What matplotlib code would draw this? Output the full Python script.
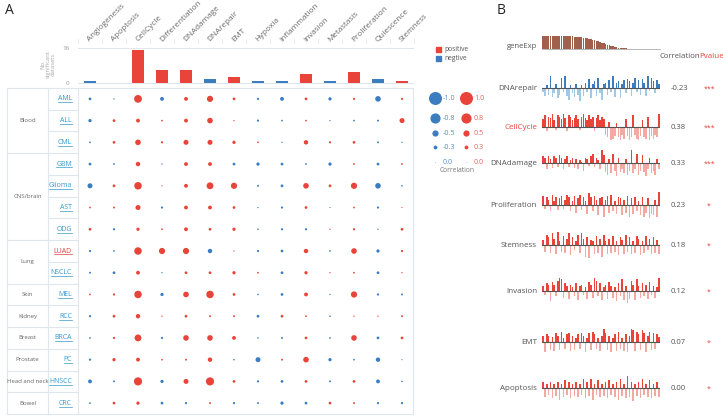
import matplotlib
matplotlib.use('Agg')
import matplotlib.pyplot as plt
import numpy as np

plt.rcParams['font.family'] = ['Open Sans', 'DejaVu Sans']

# ---------------- DATA ----------------
processes = ['Angiogenesis', 'Apoptosis', 'CellCycle', 'Differentiation', 'DNAdamage',
             'DNArepair', 'EMT', 'Hypoxia', 'Inflammation', 'Invasion', 'Metastasis',
             'Proliferation', 'Quiescence', 'Stemness']
sig_counts = [1, 0, 15, 6, 6, 2, 3, 1, 1, 4, 1, 5, 2, 1]
sig_sign = ['neg', 'pos', 'pos', 'pos', 'pos', 'neg', 'pos', 'neg', 'neg', 'pos', 'neg', 'pos', 'neg', 'pos']

cancers = ['AML', 'ALL', 'CML', 'GBM', 'Glioma', 'AST', 'ODG', 'LUAD', 'NSCLC', 'MEL',
           'RCC', 'BRCA', 'PC', 'HNSCC', 'CRC']
groups = ['Blood', 'CNS/brain', 'Lung', 'Skin', 'Kidney', 'Breast', 'Prostate', 'Head and neck', 'Bowel']
group_sizes = [3, 4, 2, 1, 1, 1, 1, 1, 1]

corr_AML = [-0.2, -0.05, 0.62, -0.3, 0.3, 0.5, 0.2, -0.15, -0.3, 0.2, -0.25, 0.15, -0.45, 0.15]
corr_ALL = [-0.25, 0.2, 0.3, 0.1, 0.3, 0.45, 0.05, -0.15, -0.1, 0.1, -0.05, -0.1, -0.12, 0.4]
corr_CML = [-0.1, 0.2, 0.45, 0.15, 0.4, 0.4, 0.25, 0.1, -0.05, 0.35, 0.15, 0.2, -0.12, -0.05]
corr_GBM = [-0.2, -0.1, 0.35, -0.05, 0.3, 0.3, -0.2, -0.25, -0.2, -0.1, -0.25, 0.1, -0.2, 0.1]
corr_Glioma = [-0.4, 0.2, 0.6, 0.03, 0.3, 0.55, 0.5, -0.12, -0.2, 0.45, 0.2, 0.5, -0.45, -0.08]
corr_AST = [0.1, 0.12, 0.4, -0.15, 0.3, 0.3, 0.2, -0.05, -0.15, 0.2, -0.03, 0.1, -0.15, 0.03]
corr_ODG = [0.2, -0.15, 0.25, 0.1, 0.3, 0.2, 0.25, -0.08, -0.15, -0.15, 0.05, 0.15, -0.05, 0.2]
corr_LUAD = [-0.15, -0.1, 0.6, 0.5, 0.5, -0.35, 0.05, -0.15, -0.2, 0.35, -0.1, 0.45, -0.25, 0.15]
corr_NSCLC = [-0.12, -0.2, 0.3, -0.05, 0.2, 0.2, 0.25, 0.1, -0.2, 0.25, 0.05, 0.1, -0.2, 0.05]
corr_MEL = [0.1, 0.15, 0.6, -0.25, 0.45, 0.6, 0.2, -0.08, -0.2, 0.3, -0.05, 0.5, -0.15, -0.12]
corr_RCC = [-0.15, 0.2, 0.35, 0.05, 0.2, 0.12, 0.12, -0.2, 0.2, 0.1, -0.08, 0.05, 0.05, 0.12]
corr_BRCA = [-0.1, 0.15, 0.55, -0.15, 0.45, 0.45, 0.3, -0.08, -0.12, 0.2, -0.1, 0.45, -0.2, 0.2]
corr_PC = [-0.15, 0.25, 0.3, 0.1, 0.12, 0.35, -0.08, -0.4, 0.12, 0.45, -0.25, -0.1, -0.35, -0.03]
corr_HNSCC = [-0.3, -0.12, 0.65, -0.25, 0.4, 0.65, 0.2, -0.15, -0.2, 0.2, -0.12, 0.2, -0.3, -0.08]
corr_CRC = [-0.1, 0.2, 0.25, -0.2, -0.15, 0.12, -0.15, -0.12, -0.25, -0.2, 0.2, 0.12, -0.15, -0.15]

legend_vals = [1.0, 0.8, 0.5, 0.3, 0.0]

gene_exp = [1.00, 1.00, 0.99, 0.99, 0.98, 0.98, 0.98, 0.97, 0.97, 0.97, 0.96, 0.96, 0.96, 0.95, 0.95, 0.94,
            0.94, 0.93, 0.92, 0.91, 0.90, 0.88, 0.86, 0.84, 0.81, 0.78, 0.75, 0.71, 0.67, 0.63, 0.58, 0.53,
            0.48, 0.43, 0.38, 0.33, 0.28, 0.24, 0.20, 0.16, 0.13, 0.10, 0.08, 0.06, 0.05, 0.04, 0.03, 0.03,
            0.02, 0.02, 0.02, 0.02, 0.01, 0.01, 0.01, 0.01, 0.01, 0.01, 0.01, 0.01, 0.01, 0.01, 0.0, 0.0]

b_names = ['DNArepair', 'CellCycle', 'DNAdamage', 'Proliferation', 'Stemness', 'Invasion', 'EMT', 'Apoptosis']
b_corr = ['-0.23', '0.38', '0.33', '0.23', '0.18', '0.12', '0.07', '0.00']
b_pval = ['***', '***', '***', '*', '*', '*', '*', '*']

score_DNArepair = [-0.3, -0.6, 0.2, -0.5, 0.9, -0.7, -0.4, 0.3, -0.8, -0.5, 0.8, -0.3, 0.9, -0.6, -0.9, 0.2,
                   -0.4, -0.7, 0.3, -0.5, -1.0, 0.2, -0.6, 0.4, -0.3, 0.7, -0.8, 0.3, 0.5, -0.6, 0.8, -0.4,
                   -0.9, 0.3, 0.4, -0.5, 0.6, -0.3, 0.9, -0.7, 0.4, 0.5, -0.8, 0.3, 0.6, -0.4, 0.7, 0.5,
                   -0.6, 0.4, 0.8, -0.3, 0.6, -0.5, 0.7, 0.4, -0.6, 0.9, -0.2, 0.8, 0.5, -0.4, 0.6, 0.3]
score_CellCycle = [0.6, 0.9, -0.3, 0.8, 0.7, 1.0, 0.5, -0.2, 0.9, 0.8, 0.6, 1.0, 0.7, -0.3, 0.9, 0.8,
                   0.5, 0.7, 0.9, 0.6, -0.2, 0.8, 1.0, 0.7, 0.5, 0.9, 0.6, 0.8, -0.3, 0.7, 0.9, 0.5,
                   0.8, 0.6, -0.6, -0.8, 0.4, -1.0, -0.9, -0.7, 0.3, -0.8, -1.0, -0.6, -0.9, 0.6, -0.7, -1.0,
                   -0.8, 0.9, -0.6, -0.9, -1.0, -0.7, 0.5, -0.8, -0.9, 0.8, -1.0, -0.7, -0.9, -0.6, -0.8, 1.0]
score_DNAdamage = [0.5, 0.4, -0.5, 0.5, 0.3, -0.4, 0.5, 0.4, -0.3, 0.6, 0.4, -0.5, 0.3, 0.5, -0.3, 0.2,
                   0.4, -0.4, 0.3, -0.5, 0.2, 0.1, -0.6, 0.4, 0.3, -0.2, 0.5, 0.7, -0.3, 0.4, 0.2, -0.5,
                   1.0, 0.6, -0.7, -0.9, 0.3, -0.8, 0.7, -0.6, -1.0, 0.4, -0.7, -0.5, -0.8, 0.3, -0.9, -0.6,
                   1.0, -0.8, -0.5, 0.7, -0.9, -0.6, 0.6, -0.7, -1.0, -0.5, 0.4, -0.8, -0.6, -0.9, 0.3, -0.5]
score_Proliferation = [0.7, -0.3, 0.6, 0.4, -0.5, 0.8, 0.3, 0.6, -0.4, 0.5, 0.7, -0.3, 0.4, 0.8, 0.6, -0.5,
                       0.3, 0.7, -0.6, 0.5, 0.8, -0.4, 0.6, 0.3, -0.7, 0.9, 0.6, -0.5, 0.7, 0.4, -0.8, 0.5,
                       0.6, -0.9, 0.4, 0.7, -0.6, 0.8, -0.5, 0.3, -0.7, 0.6, 0.5, -0.8, 0.4, -0.6, 0.7, -0.9,
                       0.5, -0.7, 0.6, -0.5, 0.3, -0.8, 0.6, -0.9, -0.6, 0.5, -1.0, -0.7, -0.8, 0.4, -0.9, 1.0]
score_Stemness = [0.4, -0.5, 0.8, 0.6, -0.6, 0.9, 0.5, -0.7, 1.0, 0.3, -0.5, 0.7, -0.6, 0.5, 0.9, -0.8,
                  0.6, -0.4, 0.3, 0.8, -0.6, 0.9, 0.5, -0.9, 0.6, -1.0, 0.4, 0.3, -0.7, 0.7, -0.6, 0.5,
                  -0.9, 0.8, 0.3, -0.7, 0.5, -0.6, 0.7, -0.5, 0.3, -0.8, 0.6, 0.4, -0.7, 0.8, -0.5, 0.6,
                  -0.7, 0.3, -0.6, 0.7, 0.5, -0.8, 0.3, -0.6, 0.7, -0.4, 0.5, -0.7, 0.6, -0.6, 0.4, -0.7]
score_Invasion = [0.4, -0.3, 0.6, 0.5, -0.8, 0.7, 0.5, -0.4, 0.8, 1.0, 0.9, -0.5, 0.6, 0.4, -0.6, 0.5,
                  0.3, -0.4, 0.6, -0.7, 0.4, 0.5, -0.3, 0.3, -0.6, 0.7, 0.5, -0.5, 1.0, 0.8, -0.4, 0.6,
                  -0.7, 0.3, 0.5, -0.6, 0.7, 0.4, -0.5, 0.3, -0.8, 0.6, -0.4, 0.9, -0.7, 0.4, -0.9, -0.6,
                  0.8, 0.5, -0.7, 0.9, 0.4, -0.5, 0.6, -0.4, 0.5, -0.6, 0.7, -0.3, 0.4, -0.5, 0.3, 1.0]
score_EMT = [0.5, -0.8, 0.6, 0.5, -0.6, 0.4, -0.7, 0.7, 0.5, -0.6, 0.8, 0.3, -0.5, 0.6, 0.7, -0.7,
             0.5, -0.6, 0.3, 0.6, -0.5, 0.7, 0.5, -0.8, 0.3, 0.7, -0.6, 0.8, 0.6, -0.5, 0.3, -0.7,
             0.5, 1.0, 0.7, -0.6, 0.5, -0.8, 0.3, 0.6, -0.7, 0.8, -0.5, 0.3, -0.7, 0.6, -0.8, 0.5,
             1.0, 0.9, -0.7, 0.8, 0.6, -0.6, 0.9, 0.7, -0.8, 0.5, 0.8, -0.6, 0.7, -0.5, 0.6, 0.4]
score_Apoptosis = [0.5, -0.7, 0.3, -0.5, 0.5, -0.8, 0.3, -0.6, 0.5, -0.9, 0.3, -0.7, 0.6, -0.5, 0.5, -0.8,
                   0.3, -0.6, 0.5, -0.7, 0.3, -0.5, 0.7, -0.8, 0.5, -0.6, 0.7, -0.9, 0.3, -0.5, 0.6, -0.7,
                   0.3, -0.6, 0.5, -0.8, 0.6, -0.5, 0.3, -0.7, 0.5, -0.9, 0.7, -0.6, 0.3, -0.8, 0.9, -0.7,
                   0.5, -1.0, 0.3, -0.6, 0.5, -0.8, 0.7, -0.5, 0.3, -0.7, 0.6, -0.8, 0.3, -0.6, 0.5, -0.7]

# ---------------- STYLE ----------------
RED = '#e8443a'
BLUE = '#3b7dbf'
LRED = '#f3a8a1'
LBLUE = '#a0c9e6'
LINK = '#3499cc'
GRID = '#dfe7ee'
TXT = '#666666'

W, H = 723, 419
fig = plt.figure(figsize=(W / 100, H / 100), dpi=100)


def ax_px(x0, y0, x1, y1):
    a = fig.add_axes([x0 / W, 1 - y1 / H, (x1 - x0) / W, (y1 - y0) / H])
    a.patch.set_alpha(0)
    return a


ov = ax_px(0, 0, W, H)
ov.set_xlim(0, W)
ov.set_ylim(H, 0)
ov.axis('off')


def size_of(r):
    d = 1.0 + 12.0 * abs(r) ** 1.2  # diameter in px
    return (d * 0.72) ** 2


# ---------- Panel A ----------
ov.text(5, 11, 'A', fontsize=10, ha='left', va='center', color='#222')

# column headers
for i, p in enumerate(processes):
    ov.text(90 + 24 * i, 42, p, rotation=45, rotation_mode='anchor', ha='left', va='baseline',
            fontsize=5.9, color='#6a6a6a')
for k in range(15):
    ov.plot([78 + 24 * k, 78 + 24 * k], [39, 43], color=GRID, lw=0.6)

# bar chart of significant datasets
bx = ax_px(78, 40, 414, 88)
bx.set_xlim(-0.5, 13.5)
bx.set_ylim(-2.11, 19.46)
bx.axhline(16, color=GRID, lw=0.7, zorder=0)
bx.axhline(0, color=GRID, lw=0.7, zorder=0)
bx.bar(range(14), sig_counts, width=0.5,
       color=[RED if s == 'pos' else BLUE for s in sig_sign], zorder=2)
bx.set_yticks([0, 16])
bx.set_yticklabels(['0', '16'])
bx.tick_params(axis='y', length=0, pad=6, labelsize=4.5, labelcolor='#999')
bx.set_xticks([])
for s in bx.spines.values():
    s.set_visible(False)
ov.text(48, 64, 'No.\nsignificant\ndatasets', rotation=90, ha='center', va='center',
        fontsize=4.2, color='#aaa', linespacing=1.0)

# legend positive/negtive
ov.add_patch(plt.Rectangle((436, 47), 5, 5, color=RED))
ov.text(444, 49.5, 'positive', fontsize=4.8, va='center', color='#555')
ov.add_patch(plt.Rectangle((436, 56), 5, 5, color=BLUE))
ov.text(444, 58.5, 'negtive', fontsize=4.8, va='center', color='#555')

# table lines
row_h = 326 / 15.0
top = 88
bounds = np.cumsum([0] + group_sizes)
for k in range(16):
    y = top + k * row_h
    if k in (0, 15):
        ov.plot([7, 413], [y, y], color=GRID, lw=0.8)
    elif k in bounds:
        ov.plot([7, 78], [y, y], color=GRID, lw=0.8)
    else:
        ov.plot([48, 78], [y, y], color=GRID, lw=0.8)
for x in (7, 48, 78, 413):
    ov.plot([x, x], [top, top + 15 * row_h], color=GRID, lw=0.8)

# group labels
for g, a, b in zip(groups, bounds[:-1], bounds[1:]):
    yc = top + (a + b) / 2.0 * row_h
    ov.text(27.5, yc, g, ha='center', va='center', fontsize=4.3, color=TXT)

# cancer labels (underlined)
can_texts = []
for j, c in enumerate(cancers):
    yc = top + (j + 0.5) * row_h
    col = '#d9443b' if c == 'LUAD' else LINK
    t = ov.text(72, yc, c, ha='right', va='center', fontsize=5.0, color=col)
    can_texts.append((t, yc, col))

# dot grid
gx = ax_px(78, 88, 414, 414)
gx.set_xlim(-0.5, 13.5)
gx.set_ylim(14.5, -0.5)
gx.axis('off')
corr_rows = [corr_AML, corr_ALL, corr_CML, corr_GBM, corr_Glioma, corr_AST, corr_ODG, corr_LUAD,
             corr_NSCLC, corr_MEL, corr_RCC, corr_BRCA, corr_PC, corr_HNSCC, corr_CRC]
xs, ys, ss, cs = [], [], [], []
for j, row in enumerate(corr_rows):
    for i, r in enumerate(row):
        xs.append(i)
        ys.append(j)
        ss.append(size_of(r))
        cs.append(RED if r >= 0 else BLUE)
gx.scatter(xs, ys, s=ss, c=cs, linewidths=0)

# size legend
leg_y = [98, 118, 133, 147, 162]
for v, y in zip(legend_vals, leg_y):
    ov.scatter([435], [y], s=size_of(v), color=BLUE if v > 0 else '#a9c9e6', linewidths=0)
    ov.scatter([466], [y], s=size_of(v), color=RED if v > 0 else '#f2b0aa', linewidths=0)
    ov.text(443, y, ('-%.1f' % v) if v > 0 else '0.0', fontsize=5.2, va='center', color='#5b8fc6')
    ov.text(474, y, '%.1f' % v, fontsize=5.2, va='center', color='#e0685f')
ov.text(457, 170, 'Correlation', fontsize=4.8, ha='center', va='center', color='#777')

# ---------- Panel B ----------
ov.text(497, 11, 'B', fontsize=10, ha='left', va='center', color='#222')

ge = ax_px(542, 34, 660, 49)
ge.set_xlim(-0.6, len(gene_exp) - 0.4)
ge.set_ylim(0, 1.128)
ge.bar(range(len(gene_exp)), gene_exp, width=0.82, color='#a0604b', linewidth=0)
ge.axis('off')
ov.plot([542, 660], [49.3, 49.3], color='#999', lw=0.5)
ov.text(537, 47, 'geneExp', ha='right', va='center', fontsize=5.6, color='#555')
ov.text(659, 56, 'Correlation', ha='left', va='center', fontsize=5.6, color='#555')
ov.text(699, 56, 'Pvalue', ha='left', va='center', fontsize=5.8, color=RED)

b_scores = [score_DNArepair, score_CellCycle, score_DNAdamage, score_Proliferation,
            score_Stemness, score_Invasion, score_EMT, score_Apoptosis]
b_base = [88, 127, 163, 205, 245, 291, 342, 388]
unit = 13.0
for name, sc, cv, pv, yb in zip(b_names, b_scores, b_corr, b_pval, b_base):
    a = ax_px(542, yb - 14, 660, yb + 16)
    a.set_xlim(-0.6, len(sc) - 0.4)
    a.set_ylim(-16 / unit, 14 / unit)
    a.axis('off')
    sc = np.array(sc)
    neg_corr = cv.startswith('-')
    dark = BLUE if neg_corr else RED
    light = LBLUE if neg_corr else LRED
    a.bar(np.arange(len(sc)), sc, width=0.85,
          color=[dark if v > 0 else light for v in sc], linewidth=0)
    a.axhline(0, color='#555', lw=0.8)
    ov.text(537, yb, name, ha='right', va='center', fontsize=5.8,
            color=RED if name == 'CellCycle' else '#555')
    ov.text(671, yb, cv, ha='left', va='center', fontsize=5.6, color='#555')
    ov.text(709, yb + 1, pv, ha='center', va='center', fontsize=5, color=RED)

# underline the cancer link labels
fig.canvas.draw()
inv = ov.transData.inverted()
for t, yc, col in can_texts:
    bb = t.get_window_extent()
    (x0, _), (x1, _) = inv.transform([[bb.x0, bb.y0], [bb.x1, bb.y1]])
    ov.plot([x0, x1], [yc + 3.4, yc + 3.4], color=col, lw=0.5)

fig.savefig('out.png', dpi=100)
